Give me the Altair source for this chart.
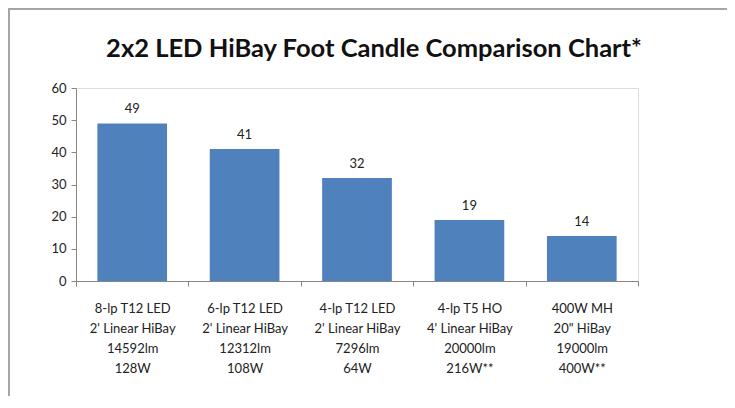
import altair as alt
import pandas as pd

categories = [
    "8-lp T12 LED\n2' Linear HiBay\n14592lm\n128W",
    "6-lp T12 LED\n2' Linear HiBay\n12312lm\n108W",
    "4-lp T12 LED\n2' Linear HiBay\n7296lm\n64W",
    "4-lp T5 HO\n4' Linear HiBay\n20000lm\n216W**",
    "400W MH\n20\" HiBay\n19000lm\n400W**",
]
foot_candles = [49, 41, 32, 19, 14]
y_ticks = [0, 10, 20, 30, 40, 50, 60]

df = pd.DataFrame({"cat": categories, "fc": foot_candles})

FONT = "Lato"
AXIS_GRAY = "#868686"

x_enc = alt.X(
    "cat:N",
    sort=None,
    title=None,
    scale=alt.Scale(paddingInner=0, paddingOuter=0),
    axis=alt.Axis(
        labelAngle=0,
        labelExpr="split(datum.label, '\\n')",
        labelFontSize=13,
        labelLineHeight=20,
        labelFont=FONT,
        labelColor="#222222",
        labelPadding=16,
        tickBand="extent",
        tickSize=5,
        tickColor=AXIS_GRAY,
        domainColor=AXIS_GRAY,
        labelBaseline="top",
    ),
)
y_enc = alt.Y(
    "fc:Q",
    title=None,
    scale=alt.Scale(domain=[0, 60]),
    axis=alt.Axis(
        values=y_ticks,
        grid=False,
        labelFontSize=13,
        labelFont=FONT,
        labelColor="#222222",
        labelPadding=5,
        tickSize=5,
        tickColor=AXIS_GRAY,
        domainColor=AXIS_GRAY,
    ),
)

base = alt.Chart(df)
bars = base.mark_bar(color="#4F81BD", width={"band": 0.62}).encode(x=x_enc, y=y_enc)
texts = base.mark_text(
    baseline="alphabetic", dy=-10, fontSize=13, font=FONT, color="#222222"
).encode(x=x_enc, y=y_enc, text="fc:Q")

frame = alt.Chart(pd.DataFrame({"f": [0]})).mark_rect(
    fillOpacity=0, stroke="#a6a6a6", strokeWidth=2
).encode(
    x=alt.value(-67), x2=alt.value(700), y=alt.value(-79), y2=alt.value(400)
)

chart = (
    alt.layer(bars, texts, frame)
    .properties(
        width=562,
        height=193,
        autosize=alt.AutoSizeParams(type="none"),
        padding={"left": 68, "top": 80, "right": 89, "bottom": 115},
        title=alt.TitleParams(
            "2x2 LED HiBay Foot Candle Comparison Chart*",
            fontSize=25.5,
            font=FONT,
            fontWeight="bold",
            color="#111111",
            anchor="middle",
            dx=17,
            offset=0,
            dy=54,
        ),
    )
    .configure_view(stroke=None)
    .configure(background="white")
)

chart.save("out.html", embed_options={"renderer": "svg", "actions": False})
